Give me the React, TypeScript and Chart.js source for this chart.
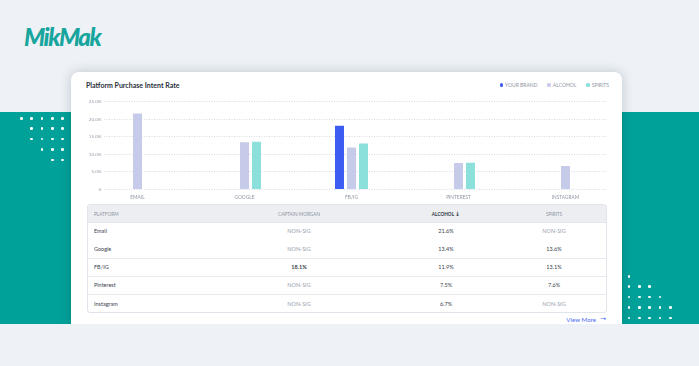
import React, { useEffect, useRef } from 'react';
import { Chart, registerables } from 'chart.js';

Chart.register(...registerables);

// ---- data ----
const categories = ['EMAIL', 'GOOGLE', 'FB/IG', 'PINTEREST', 'INSTAGRAM'];
const platforms = ['Email', 'Google', 'FB/IG', 'Pinterest', 'Instagram'];
const seriesNames = ['YOUR BRAND', 'ALCOHOL', 'SPIRITS'];
const yourBrand: (number | null)[] = [null, null, 18.1, null, null];
const alcohol: (number | null)[] = [21.6, 13.4, 11.9, 7.5, 6.7];
const spirits: (number | null)[] = [null, 13.6, 13.1, 7.6, null];
const yTicks = [0, 5, 10, 15, 20, 25];
const tableHeaders = ['PLATFORM', 'CAPTAIN MORGAN', 'ALCOHOL', 'SPIRITS'];
const seriesColors = ['#3d5cf2', '#c7cbea', '#8ce0db'];

const TEAL = '#00a199';
const BG = '#eef2f7';
const FONT = 'Lato, "Open Sans", sans-serif';

const toPoints = (arr: (number | null)[]) => arr.map((v, i) => ({ x: i, y: v }));

function BarChart() {
  const ref = useRef<HTMLCanvasElement | null>(null);
  useEffect(() => {
    if (!ref.current) return;
    const chart = new Chart(ref.current, {
      type: 'bar',
      data: {
        datasets: [yourBrand, alcohol, spirits].map((arr, k) => ({
          label: seriesNames[k],
          data: toPoints(arr) as any,
          backgroundColor: seriesColors[k],
          borderWidth: 0,
        })),
      },
      options: {
        animation: false,
        responsive: false,
        maintainAspectRatio: false,
        events: [],
        layout: { padding: { top: 7.5, right: 2, bottom: 0, left: 0 } },
        datasets: { bar: { barPercentage: 0.75, categoryPercentage: 36 / 107 } } as any,
        plugins: {
          legend: { display: false },
          title: { display: false },
          tooltip: { enabled: false },
        },
        scales: {
          x: {
            type: 'linear',
            offset: false,
            min: -0.313,
            max: 4.388,
            grid: { display: false, drawTicks: false, tickLength: 0, offset: false },
            border: { display: false },
            afterBuildTicks: (axis: any) => {
              axis.ticks = categories.map((_, i) => ({ value: i }));
            },
            afterFit: (s: any) => {
              s.height = 12.5;
            },
            ticks: {
              autoSkip: true,
              maxRotation: 0,
              minRotation: 0,
              padding: 4.6,
              color: '#8f96a3',
              font: { family: FONT, size: 4.8 },
              callback: (v: any) => categories[Math.round(Number(v))] ?? '',
            },
          },
          y: {
            min: 0,
            max: 25,
            afterBuildTicks: (axis: any) => {
              axis.ticks = yTicks.map((v) => ({ value: v }));
            },
            afterFit: (s: any) => {
              s.width = 24;
            },
            grid: { color: '#d6dae3', drawTicks: false, tickLength: 0, lineWidth: 1 },
            border: { display: false, dash: [1, 1.5] },
            ticks: {
              padding: 2.5,
              color: '#9aa0ac',
              font: { family: FONT, size: 4.6 },
              callback: (v: any) => (Number(v) === 0 ? '0' : Number(v).toFixed(1) + '%'),
            },
          },
        },
      } as any,
    });
    return () => chart.destroy();
  }, []);
  return (
    <canvas
      ref={ref}
      width={529}
      height={108}
      style={{ position: 'absolute', left: 80, top: 94, width: 529, height: 108 }}
    />
  );
}

function Dots({ counts, x0, y0, alignRight }: { counts: number[]; x0: number; y0: number; alignRight: boolean }) {
  const step = 10.35;
  const out: React.ReactNode[] = [];
  counts.forEach((n, r) => {
    for (let j = 0; j < n; j++) {
      const cx = alignRight ? x0 - j * step : x0 + j * step;
      const cy = y0 + r * 10.4;
      out.push(
        <div
          key={r + '-' + j}
          style={{
            position: 'absolute',
            left: cx - 1.3,
            top: cy - 1.3,
            width: 2.6,
            height: 2.6,
            borderRadius: '50%',
            background: '#ffffff',
          }}
        />
      );
    }
  });
  return <>{out}</>;
}

function Table() {
  const left = 87;
  const top = 204;
  const width = 520;
  const headH = 18.3;
  const rowH = 18.2;
  const colCenters = [0, 298, 445, 553].map((c) => c - left);
  const cols = [yourBrand, alcohol, spirits];
  const cell = (center: number, content: React.ReactNode, style: React.CSSProperties, key: string) => (
    <div
      key={key}
      style={{
        position: 'absolute',
        left: center - 60,
        width: 120,
        top: 0,
        height: '100%',
        display: 'flex',
        alignItems: 'center',
        justifyContent: 'center',
        whiteSpace: 'nowrap',
        ...style,
      }}
    >
      {content}
    </div>
  );
  return (
    <div
      style={{
        position: 'absolute',
        left,
        top,
        width,
        height: headH + rowH * platforms.length,
        border: '1px solid #e1e4ea',
        borderRadius: 3,
        boxSizing: 'border-box',
        overflow: 'hidden',
        fontFamily: FONT,
      }}
    >
      <div
        style={{
          position: 'absolute',
          left: 0,
          top: 0,
          right: 0,
          height: headH,
          background: '#eceef2',
          borderBottom: '1px solid #e3e6eb',
          boxSizing: 'border-box',
        }}
      >
        <div
          style={{
            position: 'absolute',
            left: 6,
            top: 0,
            height: '100%',
            display: 'flex',
            alignItems: 'center',
            fontSize: 4.7,
            color: '#8e95a3',
          }}
        >
          {tableHeaders[0]}
        </div>
        {tableHeaders.slice(1).map((h, k) =>
          cell(
            colCenters[k + 1],
            k === 1 ? (
              <span>
                {h} <span style={{ fontSize: 6, fontFamily: '"DejaVu Sans", sans-serif' }}>↓</span>
              </span>
            ) : (
              h
            ),
            k === 1
              ? { fontSize: 4.7, color: '#2f3543', fontWeight: 700 }
              : { fontSize: 4.7, color: '#8e95a3' },
            'h' + k
          )
        )}
      </div>
      {platforms.map((p, i) => (
        <div
          key={p}
          style={{
            position: 'absolute',
            left: 0,
            right: 0,
            top: headH + i * rowH - 1,
            height: rowH,
            borderBottom: i >= 1 && i <= 3 ? '1px solid #e7e9ee' : 'none',
            boxSizing: 'border-box',
          }}
        >
          <div
            style={{
              position: 'absolute',
              left: 6,
              top: 0,
              height: '100%',
              display: 'flex',
              alignItems: 'center',
              fontSize: 5.5,
              color: '#3d4250',
            }}
          >
            {p}
          </div>
          {cols.map((arr, k) => {
            const v = arr[i];
            const isNum = v !== null && v !== undefined;
            return cell(
              colCenters[k + 1],
              isNum ? (v as number).toFixed(1) + '%' : 'NON-SIG',
              isNum
                ? { fontSize: 5.5, color: '#3a3f4c', fontWeight: k === 0 ? 700 : 400 }
                : { fontSize: 5.5, color: '#9aa0ac' },
              'c' + k
            );
          })}
        </div>
      ))}
    </div>
  );
}

export default function App() {
  return (
    <div
      style={{
        position: 'fixed',
        left: 0,
        top: 0,
        width: 699,
        height: 366,
        overflow: 'hidden',
        background: BG,
        fontFamily: FONT,
      }}
    >
      {/* logo */}
      <div
        style={{
          position: 'absolute',
          left: 24,
          top: 22,
          fontFamily: FONT,
          fontStyle: 'italic',
          fontWeight: 900,
          fontSize: 24,
          letterSpacing: -1.5,
          color: '#17a59d',
          lineHeight: '30px',
        }}
      >
        MikMak
      </div>
      {/* teal band */}
      <div style={{ position: 'absolute', left: 0, top: 112, width: 699, height: 212, background: TEAL }} />
      <Dots counts={[5, 4, 4, 3, 2]} x0={62.7} y0={118.3} alignRight={true} />
      <Dots counts={[1, 3, 4, 5, 5]} x0={629} y0={276.3} alignRight={false} />
      {/* card */}
      <div
        style={{
          position: 'absolute',
          left: 71,
          top: 72,
          width: 551,
          height: 252,
          background: '#ffffff',
          borderRadius: '8px 8px 0 0',
          boxShadow: '0 0 12px rgba(0,40,60,0.22)',
        }}
      />
      <div
        style={{
          position: 'absolute',
          left: 86,
          top: 79,
          fontSize: 7,
          fontWeight: 700,
          color: '#2a2f3b',
          lineHeight: '12px',
          whiteSpace: 'nowrap',
        }}
      >
        Platform Purchase Intent Rate
      </div>
      {/* legend */}
      <div
        style={{
          position: 'absolute',
          right: 699 - 609,
          top: 82,
          height: 6,
          display: 'flex',
          alignItems: 'center',
          fontSize: 5,
          color: '#8f96a3',
          whiteSpace: 'nowrap',
        }}
      >
        {seriesNames.map((n, k) => (
          <div key={n} style={{ display: 'flex', alignItems: 'center', marginLeft: k === 0 ? 0 : 10 }}>
            <div
              style={{
                width: 3.2,
                height: 3.2,
                borderRadius: '50%',
                background: seriesColors[k],
                marginRight: 2.2,
              }}
            />
            <span>{n}</span>
          </div>
        ))}
      </div>
      <BarChart />
      <Table />
      <div
        style={{
          position: 'absolute',
          left: 560,
          width: 46,
          top: 314,
          height: 10,
          display: 'flex',
          alignItems: 'center',
          justifyContent: 'flex-end',
          fontSize: 6.2,
          color: '#4a6af5',
          whiteSpace: 'nowrap',
        }}
      >
        View More
        <span style={{ marginLeft: 4, fontFamily: '"DejaVu Sans", sans-serif', fontSize: 7 }}>→</span>
      </div>
      {/* bottom strip over band */}
      <div style={{ position: 'absolute', left: 0, top: 324, width: 699, height: 42, background: BG }} />
    </div>
  );
}
